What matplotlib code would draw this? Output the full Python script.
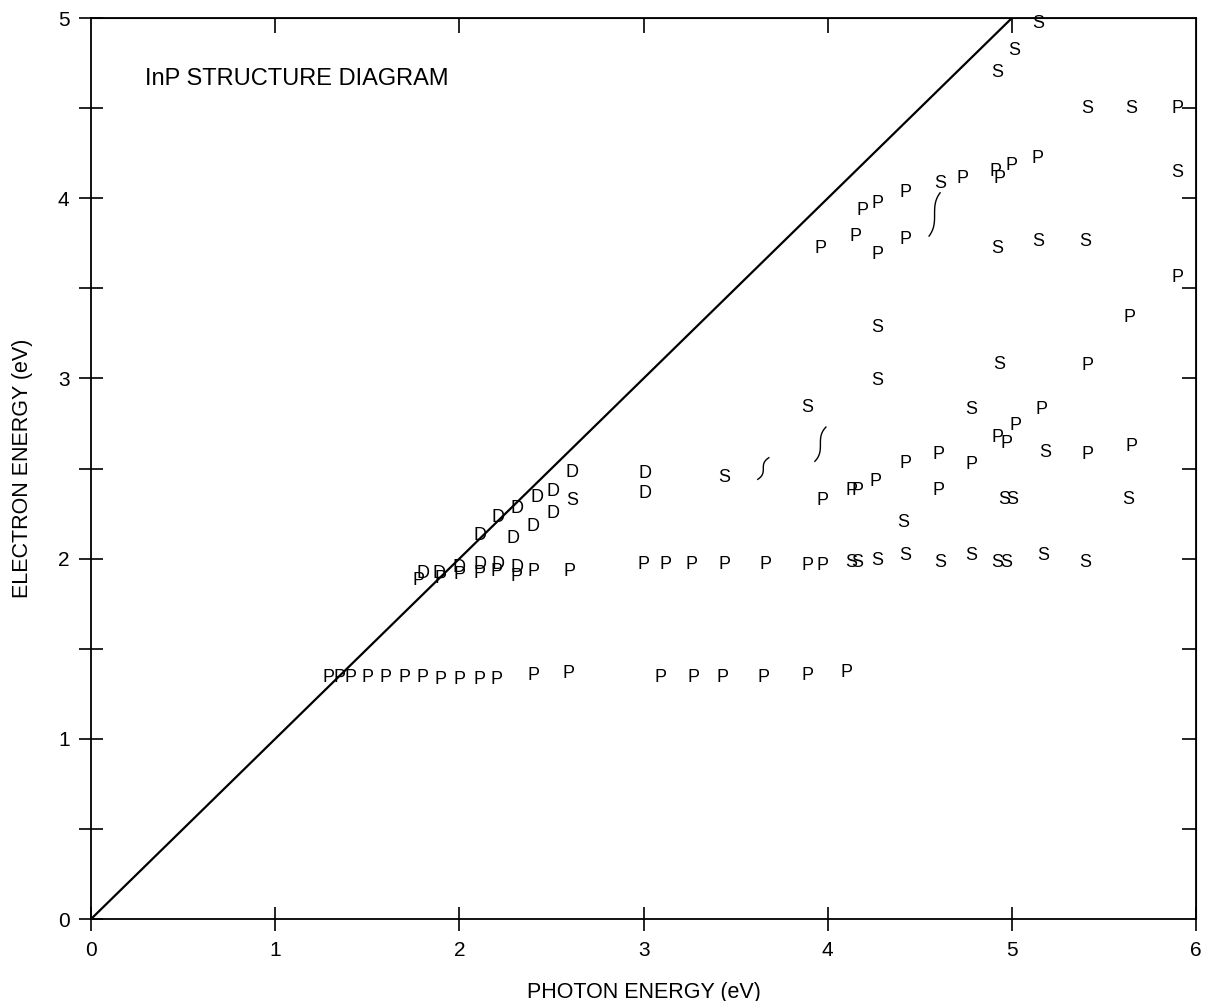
#InP structure diagram - letters mark the transition type at each (photon, electron) energy

import numpy as np
import matplotlib
matplotlib.use('Agg')
import matplotlib.pyplot as plt

plt.rcParams['font.family'] = ['Liberation Sans', 'DejaVu Sans']

#P points
p_x = [1.29, 1.35, 1.41, 1.50, 1.60, 1.70, 1.80, 1.90, 2.00, 2.11, 2.20, 2.40, 2.59,
       3.09, 3.27, 3.43, 3.65, 3.89, 4.10,
       1.78, 1.90, 2.00, 2.11, 2.20, 2.31, 2.40, 2.60,
       3.00, 3.12, 3.26, 3.44, 3.66, 3.89, 3.97,
       3.97, 4.13, 4.16, 4.26, 4.42, 4.60, 4.60, 4.78, 4.92, 4.97, 5.02, 5.16, 5.41, 5.65,
       5.41, 5.64, 5.90,
       3.96, 4.15, 4.27, 4.42, 4.19, 4.27, 4.42, 4.73, 4.91, 4.93, 5.00, 5.14, 5.90]
p_y = [1.34, 1.34, 1.34, 1.34, 1.34, 1.34, 1.34, 1.33, 1.33, 1.33, 1.33, 1.35, 1.36,
       1.34, 1.34, 1.34, 1.34, 1.35, 1.37,
       1.88, 1.89, 1.91, 1.92, 1.93, 1.90, 1.93, 1.93,
       1.97, 1.97, 1.97, 1.97, 1.97, 1.96, 1.96,
       2.32, 2.38, 2.38, 2.43, 2.53, 2.58, 2.38, 2.52, 2.67, 2.64, 2.74, 2.83, 2.58, 2.62,
       3.07, 3.34, 3.56,
       3.72, 3.79, 3.69, 3.77, 3.93, 3.97, 4.03, 4.11, 4.15, 4.11, 4.18, 4.22, 4.50]

#S points
s_x = [2.61, 3.44, 3.89, 4.41, 4.13, 4.16, 4.27, 4.42, 4.61, 4.78, 4.92, 4.97, 5.17, 5.40,
       4.96, 5.00, 5.63, 5.18, 4.78, 4.93, 4.27, 4.27,
       4.92, 5.14, 5.40, 4.61, 5.90, 5.41, 5.65, 4.92, 5.01, 5.14]
s_y = [2.32, 2.45, 2.84, 2.20, 1.98, 1.98, 1.99, 2.02, 1.98, 2.02, 1.98, 1.98, 2.02, 1.98,
       2.33, 2.33, 2.33, 2.59, 2.83, 3.08, 2.99, 3.28,
       3.72, 3.76, 3.76, 4.08, 4.14, 4.50, 4.50, 4.70, 4.82, 4.97]

#D points
d_x = [2.61, 2.51, 2.42, 2.31, 2.21, 2.51, 2.40, 2.11, 2.29,
       1.80, 1.89, 2.00, 2.11, 2.21, 2.31,
       3.01, 3.01]
d_y = [2.48, 2.37, 2.34, 2.28, 2.23, 2.25, 2.18, 2.13, 2.11,
       1.92, 1.92, 1.95, 1.97, 1.97, 1.95,
       2.47, 2.36]

#tie marks (centre x, bottom y, top y)
tie_x = [3.65, 3.96, 4.58]
tie_lo = [2.44, 2.54, 3.79]
tie_hi = [2.56, 2.73, 4.03]

#photon = electron line
line_x = [0, 5]
line_y = [0, 5]

fig = plt.figure(figsize=(12.06, 10.01), dpi=100)
ax = fig.add_axes([0.0755, 0.0819, 0.9163, 0.9001])

ax.plot(line_x, line_y, color='black', lw=1.6)

for letter, xs, ys in (('P', p_x, p_y), ('S', s_x, s_y), ('D', d_x, d_y)):
    for x, y in zip(xs, ys):
        ax.text(x, y, letter, fontsize=13, ha='center', va='center')

t = np.linspace(0, 1, 60)
for xc, lo, hi in zip(tie_x, tie_lo, tie_hi):
    ax.plot(xc + 0.03 * (2 * t - 1) ** 3, lo + (hi - lo) * t, color='black', lw=1.0)

ax.text(0.293, 4.66, 'InP STRUCTURE DIAGRAM', fontsize=17, ha='left', va='center')

ax.set_xlim(0, 6)
ax.set_ylim(0, 5)
for sp in ax.spines.values():
    sp.set_linewidth(1.3)

ax.set_xticks(range(7))
ax.set_yticks(range(6))
ax.set_yticks(np.arange(0.5, 5, 1.0), minor=True)
ax.tick_params(axis='both', which='both', direction='inout', length=17, width=1.2,
               labelsize=15, pad=7)

top = ax.secondary_xaxis('top')
top.set_xticks(range(1, 6))
top.tick_params(direction='in', length=11, width=1.2, labeltop=False)
right = ax.secondary_yaxis('right')
right.set_yticks(np.arange(0.5, 5, 0.5))
right.tick_params(direction='in', length=10, width=1.2, labelright=False)

ax.set_xlabel('PHOTON ENERGY (eV)', fontsize=15.5, labelpad=16)
ax.set_ylabel('ELECTRON ENERGY (eV)', fontsize=15.5, labelpad=18)

plt.savefig('out.png', dpi=100)
